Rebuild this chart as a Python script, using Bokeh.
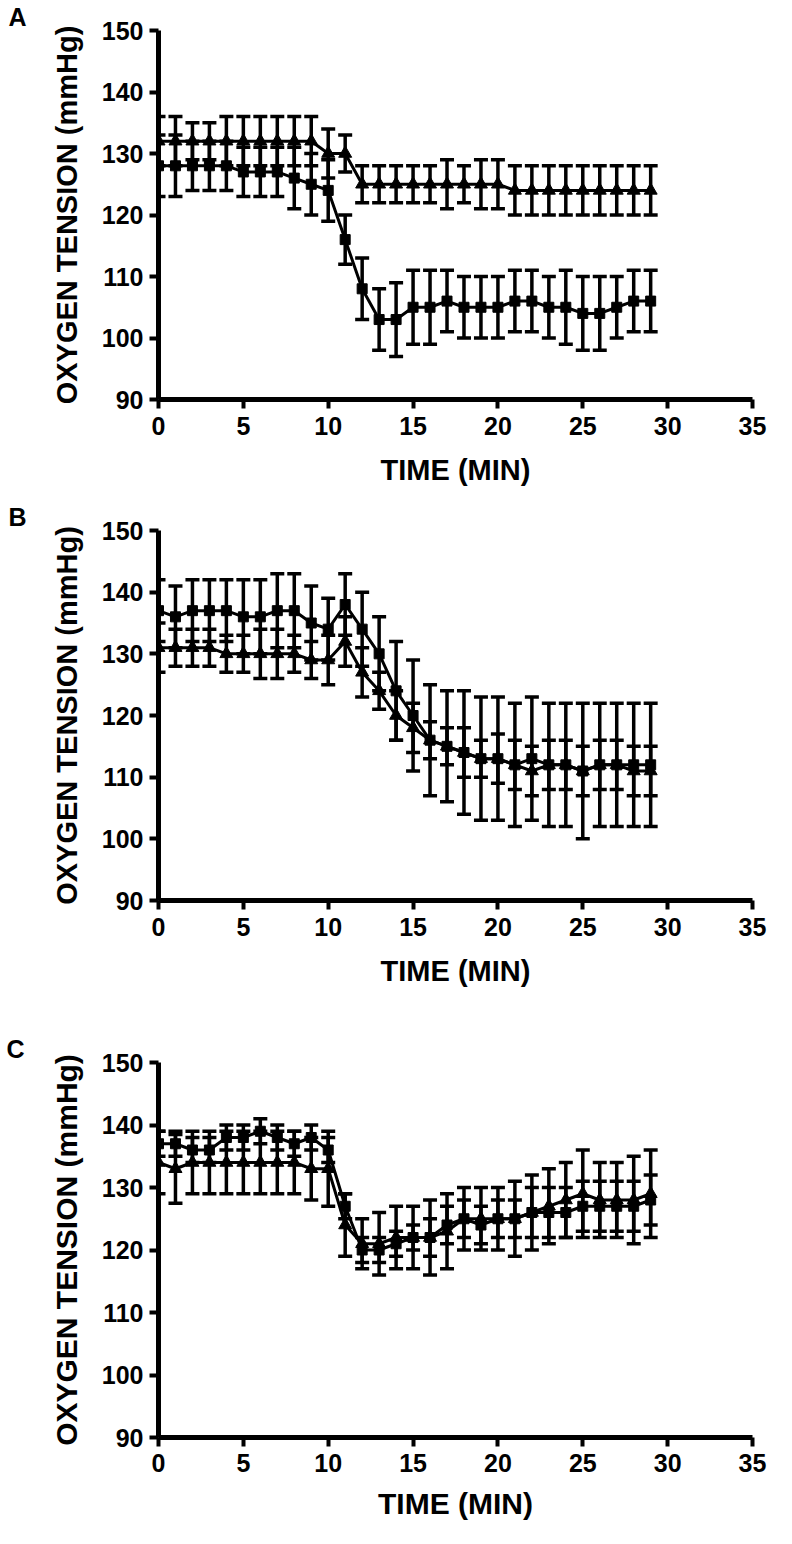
from bokeh.plotting import figure
from bokeh.models import Range1d, Whisker, TeeHead, ColumnDataSource, FixedTicker
from bokeh.layouts import column
from bokeh.embed import file_html
from bokeh.resources import INLINE

# ---------------- data ----------------
time_min = list(range(30))
x_ticks = [0, 5, 10, 15, 20, 25, 30, 35]
y_ticks = [90, 100, 110, 120, 130, 140, 150]
panel_letters = ["A", "B", "C"]
x_label = "TIME (MIN)"
y_label = "OXYGEN TENSION (mmHg)"

a_tri = [132, 132, 132, 132, 132, 132, 132, 132, 132, 132, 130, 130, 125, 125, 125,
         125, 125, 125, 125, 125, 125, 124, 124, 124, 124, 124, 124, 124, 124, 124]
a_tri_err = [4, 4, 3, 3, 4, 4, 4, 4, 4, 4, 4, 3, 3, 3, 3,
             3, 3, 4, 3, 4, 4, 4, 4, 4, 4, 4, 4, 4, 4, 4]
a_sq = [128, 128, 128, 128, 128, 127, 127, 127, 126, 125, 124, 116, 108, 103, 103,
        105, 105, 106, 105, 105, 105, 106, 106, 105, 105, 104, 104, 105, 106, 106]
a_sq_err = [5, 5, 4, 4, 4, 4, 4, 4, 5, 5, 5, 4, 5, 5, 6,
            6, 6, 5, 5, 5, 5, 5, 5, 5, 6, 6, 6, 5, 5, 5]

b_tri = [131, 131, 131, 131, 130, 130, 130, 130, 130, 129, 129, 132, 127, 124, 120,
         118, 116, 115, 114, 113, 113, 112, 111, 112, 112, 111, 112, 112, 111, 111]
b_tri_err = [4, 3, 3, 3, 3, 3, 4, 4, 3, 3, 4, 4, 4, 3, 4,
             4, 3, 3, 4, 3, 4, 4, 4, 4, 4, 4, 4, 4, 4, 4]
b_sq = [137, 136, 137, 137, 137, 136, 136, 137, 137, 135, 134, 138, 134, 130, 124,
        120, 116, 115, 114, 113, 113, 112, 113, 112, 112, 111, 112, 112, 112, 112]
b_sq_err = [5, 5, 5, 5, 5, 6, 6, 6, 6, 6, 5, 5, 6, 6, 8,
            9, 9, 9, 10, 10, 10, 10, 10, 10, 10, 11, 10, 10, 10, 10]

c_tri = [134, 133, 134, 134, 134, 134, 134, 134, 134, 133, 133, 124, 121, 121, 122,
         122, 122, 123, 125, 125, 125, 125, 126, 127, 128, 129, 128, 128, 128, 129]
c_tri_err = [5, 5.5, 5, 5, 5, 5, 5, 5, 5, 5, 6, 5, 4, 5, 5,
             5, 6, 6, 5, 5, 5, 6, 6, 6, 6, 7, 6, 6, 7, 7]
c_sq = [137, 137, 136, 136, 138, 138, 139, 138, 137, 138, 136, 127, 120, 120, 121,
        122, 122, 124, 125, 124, 125, 125, 126, 126, 126, 127, 127, 127, 127, 128]
c_sq_err = [2, 2, 2, 2, 2, 2, 2, 2, 2, 2, 2, 2, 2, 2, 2,
            2, 3, 3, 3, 3, 3, 3, 4, 4, 4, 4, 4, 4, 4, 4]

FONT = "Liberation Sans"


def add_series(p, vals, errs, marker, size):
    src = ColumnDataSource(dict(
        t=time_min, y=vals,
        lo=[v - e for v, e in zip(vals, errs)],
        hi=[v + e for v, e in zip(vals, errs)]))
    w = Whisker(source=src, base="t", upper="hi", lower="lo", dimension="height",
                line_color="black", line_width=3.5,
                upper_head=TeeHead(size=14, line_width=3.5, line_color="black"),
                lower_head=TeeHead(size=14, line_width=3.5, line_color="black"))
    p.add_layout(w)
    p.line("t", "y", source=src, line_color="black", line_width=3)
    p.scatter("t", "y", source=src, marker=marker, size=size,
              fill_color="black", line_color="black")


def make_panel(letter, tri, tri_err, sq, sq_err, width, height,
               bl, br, bt, bb, tick_fs, label_fs, xtick_standoff, xlab_standoff,
               letter_offset):
    p = figure(width=width, height=height,
               x_range=Range1d(0, 35), y_range=Range1d(90, 150),
               output_backend="svg", toolbar_location=None,
               min_border_left=bl, min_border_right=br,
               min_border_top=bt, min_border_bottom=bb)
    p.outline_line_color = None
    p.grid.visible = False
    p.background_fill_color = "white"
    p.border_fill_color = "white"

    p.title.text = letter
    p.title.text_font = FONT
    p.title.text_font_style = "bold"
    p.title.text_font_size = "25px"
    p.title.text_color = "black"
    p.title.align = "left"
    p.title.offset = letter_offset
    p.title.standoff = 0

    p.xaxis.ticker = FixedTicker(ticks=x_ticks)
    p.yaxis.ticker = FixedTicker(ticks=y_ticks)
    for ax in (p.xaxis[0], p.yaxis[0]):
        ax.axis_line_width = 5
        ax.axis_line_color = "black"
        ax.major_tick_line_width = 4
        ax.major_tick_line_color = "black"
        ax.major_tick_out = 9
        ax.major_tick_in = 0
        ax.minor_tick_line_color = None
        ax.major_label_text_font = FONT
        ax.major_label_text_font_style = "bold"
        ax.major_label_text_font_size = f"{tick_fs}px"
        ax.major_label_text_color = "black"
        ax.axis_label_text_font = FONT
        ax.axis_label_text_font_style = "bold"
        ax.axis_label_text_font_size = f"{label_fs}px"
        ax.axis_label_text_color = "black"
    p.xaxis.axis_label = x_label
    p.yaxis.axis_label = y_label
    p.xaxis.major_label_standoff = xtick_standoff
    p.yaxis.major_label_standoff = 6
    p.xaxis.axis_label_standoff = xlab_standoff
    p.yaxis.axis_label_standoff = 16

    add_series(p, tri, tri_err, "triangle", 13)
    add_series(p, sq, sq_err, "square", 10)
    return p


pa = make_panel(panel_letters[0], a_tri, a_tri_err, a_sq, a_sq_err,
                784, 500, 155, 32, 27, 101, 25, 29, 8, 16, -150)
pb = make_panel(panel_letters[1], b_tri, b_tri_err, b_sq, b_sq_err,
                784, 532, 155, 32, 30, 132, 25, 29, 8, 16, -150)
pc = make_panel(panel_letters[2], c_tri, c_tri_err, c_sq, c_sq_err,
                784, 496, 158, 16, 26, 91, 25, 30, 7, 12, -152)

layout = column(pa, pb, pc, spacing=0)
open("out.html", "w").write(file_html(layout, INLINE))
